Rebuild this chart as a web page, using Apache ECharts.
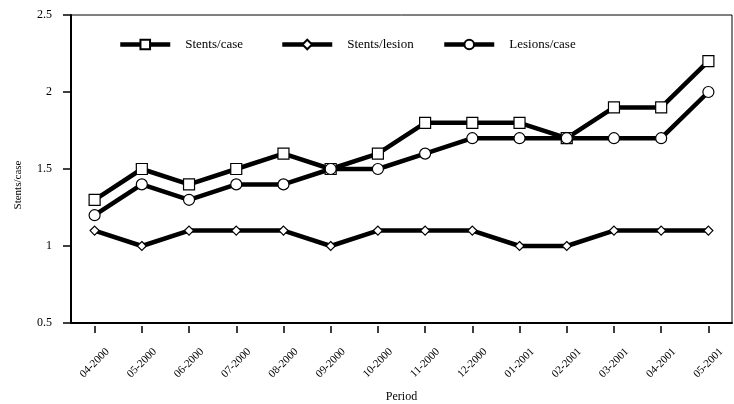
<!DOCTYPE html>
<html>
<head>
<meta charset="utf-8">
<script src="https://cdn.jsdelivr.net/npm/echarts@6/dist/echarts.min.js"></script>
<style>html,body{margin:0;padding:0;background:#fff}#c{width:734px;height:404px}</style>
</head>
<body>
<div id="c"></div>
<script>
var categories = ['04-2000','05-2000','06-2000','07-2000','08-2000','09-2000','10-2000','11-2000','12-2000','01-2001','02-2001','03-2001','04-2001','05-2001'];
var stentsPerCase = [1.3,1.5,1.4,1.5,1.6,1.5,1.6,1.8,1.8,1.8,1.7,1.9,1.9,2.2];
var stentsPerLesion = [1.1,1.0,1.1,1.1,1.1,1.0,1.1,1.1,1.1,1.0,1.0,1.1,1.1,1.1];
var lesionsPerCase = [1.2,1.4,1.3,1.4,1.4,1.5,1.5,1.6,1.7,1.7,1.7,1.7,1.7,2.0];
var yTicks = [0.5,1,1.5,2,2.5];

var FONT = 'Liberation Serif';
var chart = echarts.init(document.getElementById('c'), null, {renderer:'canvas'});

function legendAt(name, left) {
  return {
    data: [name], left: left, top: 33, itemWidth: 50, itemHeight: 12,
    lineStyle: {width: 4.5, color: '#000'},
    textStyle: {fontFamily: FONT, fontSize: 13, color: '#000', padding: [0,0,0,10]}
  };
}
function mkSeries(name, data, symbol, size) {
  return {
    name: name, type: 'line', data: data, symbol: symbol, symbolSize: size,
    showSymbol: true, animation: false,
    lineStyle: {width: 4.5, color: '#000'},
    itemStyle: {color: '#fff', borderColor: '#000', borderWidth: 1.2}
  };
}

chart.setOption({
  animation: false,
  legend: [legendAt('Stents/case', 113), legendAt('Stents/lesion', 275), legendAt('Lesions/case', 437)],
  grid: {left: 71, right: 2, top: 15, bottom: 81, show: true, borderColor: '#000', borderWidth: 1,
         outerBoundsMode: 'none', containLabel: false},
  xAxis: [{
    type: 'category', data: categories, boundaryGap: true,
    name: 'Period', nameLocation: 'middle', nameGap: 68,
    nameTextStyle: {fontFamily: FONT, fontSize: 12, color: '#000'},
    axisLine: {lineStyle: {color: '#000', width: 2}},
    axisTick: {show: false},
    axisLabel: {rotate: 45, interval: 0, margin: 40, align: 'center', verticalAlign: 'middle',
      fontFamily: FONT, fontSize: 11, color: '#000'}
  }, {
    type: 'category', data: categories, boundaryGap: true, position: 'bottom', offset: 3,
    axisLine: {show: false},
    axisTick: {show: true, interval: 0, alignWithLabel: true, length: 7, lineStyle: {color: '#000', width: 1.5}},
    axisLabel: {show: false}
  }],
  yAxis: {
    type: 'value', min: yTicks[0], max: yTicks[yTicks.length-1], interval: 0.5,
    name: 'Stents/case', nameLocation: 'middle', nameGap: 47,
    nameTextStyle: {fontFamily: FONT, fontSize: 11, color: '#000', padding: [0,0,0,-32]},
    axisLine: {show: true, lineStyle: {color: '#000', width: 2}},
    axisTick: {show: true, length: 8, lineStyle: {color: '#000', width: 1.5}},
    splitLine: {show: false},
    axisLabel: {margin: 19, fontFamily: FONT, fontSize: 12, color: '#000',
      formatter: function(v){ return String(v); }}
  },
  series: [
    mkSeries('Stents/case', stentsPerCase, 'rect', 11),
    mkSeries('Stents/lesion', stentsPerLesion, 'diamond', 9),
    mkSeries('Lesions/case', lesionsPerCase, 'circle', 11)
  ]
});
</script>
</body>
</html>
